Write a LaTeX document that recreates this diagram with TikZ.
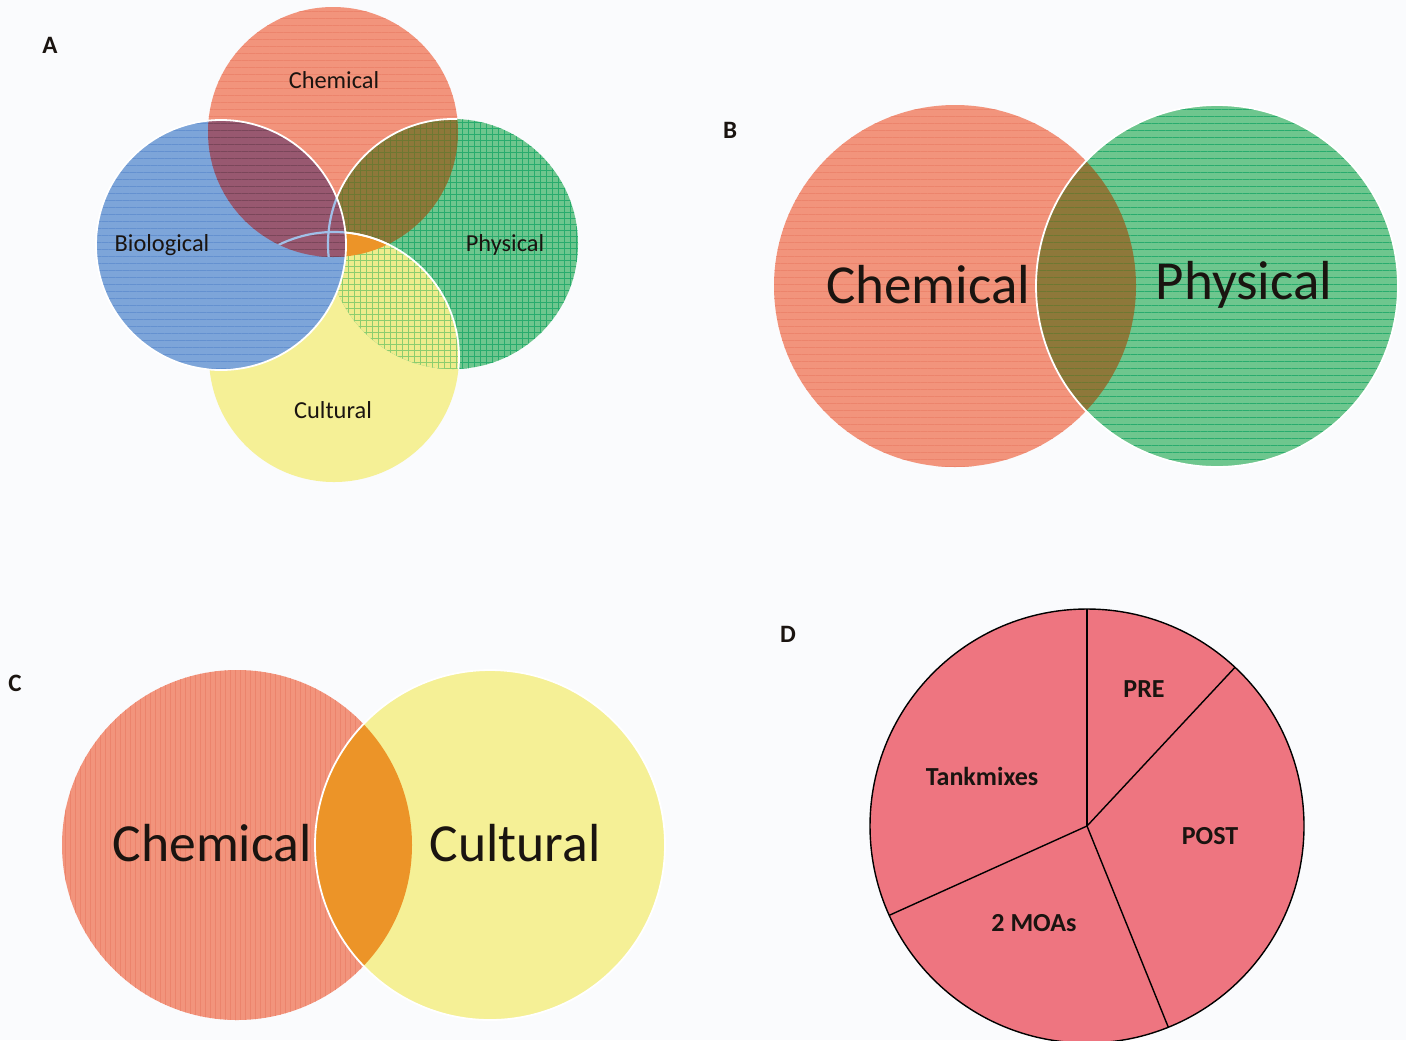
\documentclass[tikz,border=0pt]{standalone}
\usepackage{fontspec}
\setmainfont{Carlito}
\usetikzlibrary{patterns.meta}
\definecolor{bg}{RGB}{250,251,253}
\definecolor{chem}{RGB}{242,148,124}
\definecolor{chemL}{RGB}{236,132,108}
\definecolor{bio}{RGB}{125,165,217}
\definecolor{bioL}{RGB}{100,145,208}
\definecolor{bioE}{RGB}{160,192,232}
\definecolor{phys}{RGB}{110,198,142}
\definecolor{physL}{RGB}{40,172,110}
\definecolor{cult}{RGB}{245,240,150}
\definecolor{mauve}{RGB}{152,88,112}
\definecolor{olive}{RGB}{142,120,58}
\definecolor{oliveL}{RGB}{110,120,50}
\definecolor{orng}{RGB}{236,148,40}
\definecolor{light}{RGB}{238,236,140}
\definecolor{lightL}{RGB}{140,205,110}
\definecolor{pie}{RGB}{238,117,128}
\definecolor{ink}{RGB}{26,20,16}
\tikzset{
  hlines/.style={postaction={pattern={Lines[angle=0,distance=3.5pt,line width=0.35pt]},pattern color=#1}},
  vlines/.style={postaction={pattern={Lines[angle=90,distance=2.5pt,line width=0.3pt]},pattern color=#1}},
  grid/.style={postaction={pattern={Lines[angle=0,distance=3pt,line width=0.3pt]},pattern color=#1},
               postaction={pattern={Lines[angle=90,distance=3pt,line width=0.3pt]},pattern color=#1}},
  edge/.style={draw=white,line width=0.9pt},
  faint/.style={draw=bioE,line width=1.1pt},
  lblA/.style={font=\fontsize{12.2}{14}\selectfont,text=ink},
  lblBig/.style={font=\fontsize{27.5}{32}\selectfont,text=ink},
  lblD/.style={font=\bfseries\fontsize{13}{15}\selectfont,text=ink},
  panel/.style={font=\bfseries\fontsize{12.5}{15}\selectfont,text=ink}
}
\begin{document}
\begin{tikzpicture}[x=0.5pt,y=0.5pt]
\useasboundingbox (0,0) rectangle (1406,-1040);
\fill[bg] (0,0) rectangle (1406,-1040);
% ---------- Panel A ----------
\coordinate (cA) at (333,-132);
\coordinate (bA) at (221,-245);
\coordinate (pA) at (453,-244);
\coordinate (uA) at (334,-357);
\def\rA{125}
\fill[cult] (uA) circle (\rA);
\fill[chem,hlines=chemL] (cA) circle (\rA);
\fill[phys,grid=physL] (pA) circle (\rA);
\begin{scope}\clip (cA) circle (\rA);
  \fill[olive,grid=oliveL] (pA) circle (\rA);
\end{scope}
\begin{scope}\clip (pA) circle (\rA);
  \fill[light,grid=lightL] (uA) circle (\rA);
\end{scope}
\begin{scope}\clip (cA) circle (\rA);
  \fill[orng] (uA) circle (\rA);
\end{scope}
% white edges visible outside the biological circle
\begin{scope}\clip (cA) circle (\rA);
  \draw[edge] (pA) circle (\rA);
  \draw[edge] (uA) circle (\rA);
\end{scope}
\begin{scope}\clip (pA) circle (\rA);
  \draw[edge] (uA) circle (\rA);
\end{scope}
\fill[bio,hlines=bioL] (bA) circle (\rA);
\begin{scope}\clip (cA) circle (\rA);
  \fill[mauve,hlines=mauve!80!black] (bA) circle (\rA);
\end{scope}
\begin{scope}\clip (bA) circle (\rA);
  \clip (cA) circle (\rA);
  \draw[faint] (pA) circle (\rA);
  \draw[faint] (uA) circle (\rA);
\end{scope}
\draw[edge] (bA) circle (\rA);
\node[lblA] (tAchem) at (334,-80) {Chemical};
\node[lblA] (tAbio) at (162,-245) {Biological};
\node[lblA] (tAphys) at (505,-245) {Physical};
\node[lblA] (tAcult) at (333,-410) {Cultural};
\node[panel] (pa) at (50,-45) {A};
% ---------- Panel B ----------
\coordinate (cB) at (955,-286);
\coordinate (pB) at (1217,-286);
\def\rB{181}
\fill[chem,hlines=chemL] (cB) circle (\rB);
\fill[phys,hlines=physL] (pB) circle (\rB);
\begin{scope}\clip (cB) circle (\rB);
  \fill[olive,hlines=oliveL] (pB) circle (\rB);
\end{scope}
\draw[edge] (pB) circle (\rB);
\node[lblBig] (tBchem) at (928,-285) {Chemical};
\node[lblBig] (tBphys) at (1244,-285) {Physical};
\node[panel] (pb) at (730,-130) {B};
% ---------- Panel C ----------
\coordinate (cC) at (237,-845);
\coordinate (uC) at (490,-845);
\def\rC{175}
\fill[chem,vlines=chemL] (cC) circle (\rC);
\fill[cult] (uC) circle (\rC);
\begin{scope}\clip (cC) circle (\rC);
  \fill[orng] (uC) circle (\rC);
\end{scope}
\draw[edge] (uC) circle (\rC);
\node[lblBig,font=\fontsize{26.8}{32}\selectfont] (tCchem) at (212,-843) {Chemical};
\node[lblBig,font=\fontsize{26.8}{32}\selectfont] (tCcult) at (515,-843) {Cultural};
\node[panel] (pc) at (15,-683) {C};
% ---------- Panel D ----------
\coordinate (dD) at (1087,-826);
\def\rD{217}
\fill[pie,draw=black,line width=0.7pt] (dD) circle (\rD);
\draw[black,line width=0.7pt] (dD) -- ++(90:\rD);
\draw[black,line width=0.7pt] (dD) -- ++(47:\rD);
\draw[black,line width=0.7pt] (dD) -- ++(-68:\rD);
\draw[black,line width=0.7pt] (dD) -- ++(204.3:\rD);
\node[lblD] (tPre) at (1144,-689) {PRE};
\node[lblD] (tPost) at (1210,-836) {POST};
\node[lblD] (tMoa) at (1034,-923) {2 MOAs};
\node[lblD] (tTank) at (982,-776) {Tankmixes};
\node[panel] (pd) at (788,-634) {D};
\end{tikzpicture}
\end{document}
